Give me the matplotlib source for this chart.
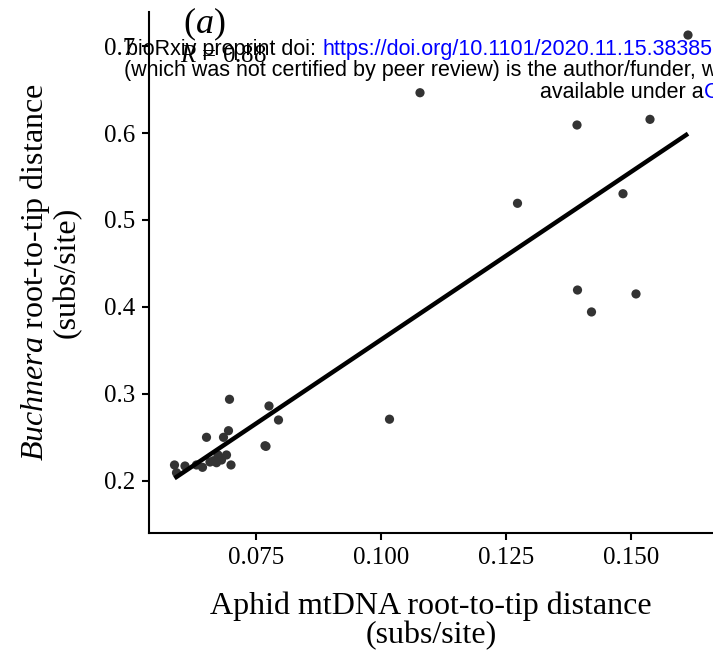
import matplotlib
matplotlib.use("Agg")
import matplotlib.pyplot as plt
import numpy as np

plt.rcParams["font.family"] = "Liberation Serif"
plt.rcParams["mathtext.fontset"] = "custom"
plt.rcParams["mathtext.rm"] = "Liberation Serif"
plt.rcParams["mathtext.it"] = "Liberation Serif:italic"

# root-to-tip distances
aphid_mt = [0.1614, 0.1078, 0.1392, 0.1538, 0.1273, 0.1484, 0.1393, 0.1510,
            0.1421, 0.1017, 0.0697, 0.0776, 0.0795, 0.0651, 0.0695, 0.0685,
            0.0768, 0.0770, 0.0587, 0.0591, 0.0608, 0.0631, 0.0643, 0.0665,
            0.0671, 0.0681, 0.0691, 0.0700, 0.0674, 0.0658]
buchnera = [0.7126, 0.6463, 0.6092, 0.6157, 0.5192, 0.5302, 0.4195, 0.4150,
            0.3943, 0.2710, 0.2939, 0.2862, 0.2701, 0.2502, 0.2578, 0.2502,
            0.2405, 0.2398, 0.2184, 0.2095, 0.2172, 0.2184, 0.2157, 0.2233,
            0.2210, 0.2241, 0.2299, 0.2184, 0.2299, 0.2218]

fit_slope = 3.857
fit_intercept = -0.0233
r_value = 0.88

x_ticks = [0.075, 0.100, 0.125, 0.150]
y_ticks = [0.2, 0.3, 0.4, 0.5, 0.6, 0.7]

W, H = 713, 657
fig = plt.figure(figsize=(W / 100, H / 100), dpi=100)
ax = fig.add_axes([149 / W, 1 - 533 / H, (713 - 149) / W, (533 - 12) / H])

ax.scatter(aphid_mt, buchnera, s=44, color="#333333", edgecolors="none", zorder=2)

fx = np.array([min(aphid_mt), max(aphid_mt)])
ax.plot(fx, fit_intercept + fit_slope * fx, color="black", lw=3.2,
        solid_capstyle="butt", zorder=3)

ax.set_xlim(0.0536, 0.1664)
ax.set_ylim(0.1402, 0.7391)
ax.set_xticks(x_ticks)
ax.set_xticklabels([f"{v:.3f}" for v in x_ticks])
ax.set_yticks(y_ticks)
ax.set_yticklabels([f"{v:.1f}" for v in y_ticks])

for s in ["top", "right"]:
    ax.spines[s].set_visible(False)
for s in ["left", "bottom"]:
    ax.spines[s].set_linewidth(1.5)
ax.tick_params(length=5, width=1.5, labelsize=18, pad=5, color="black")

ax.set_xlabel("Aphid mtDNA root-to-tip distance\n(subs/site)", fontsize=23,
              linespacing=1.0, labelpad=16)
ax.set_ylabel("$Buchnera$ root-to-tip distance\n(subs/site)", fontsize=23,
              linespacing=1.0, labelpad=16)

fig.text(180 / W, 1 - 62 / H, f"$R$ = {r_value:.2f}", fontsize=18, va="baseline")
fig.text(183 / W, 1 - 33 / H, "$(a)$", fontsize=26, va="baseline")

# bioRxiv watermark, clipped at the right edge
wm = dict(family="Liberation Sans", fontsize=15.5, va="baseline")
fig.text(126 / W, 1 - 55 / H, "bioRxiv preprint doi: ", color="black", **wm)
fig.text(322 / W, 1 - 55 / H, "https://doi.org/10.1101/2020.11.15.383851",
         color="blue", **wm)
fig.text(124 / W, 1 - 76 / H,
         "(which was not certified by peer review) is the author/funder, who has granted",
         color="black", **wm)
fig.text(704 / W, 1 - 98 / H, "available under a", color="black", ha="right", **wm)
fig.text(704 / W, 1 - 98 / H, "CC-BY-NC-ND 4.0 International license", color="blue", **wm)

fig.savefig("out.png", dpi=100)
